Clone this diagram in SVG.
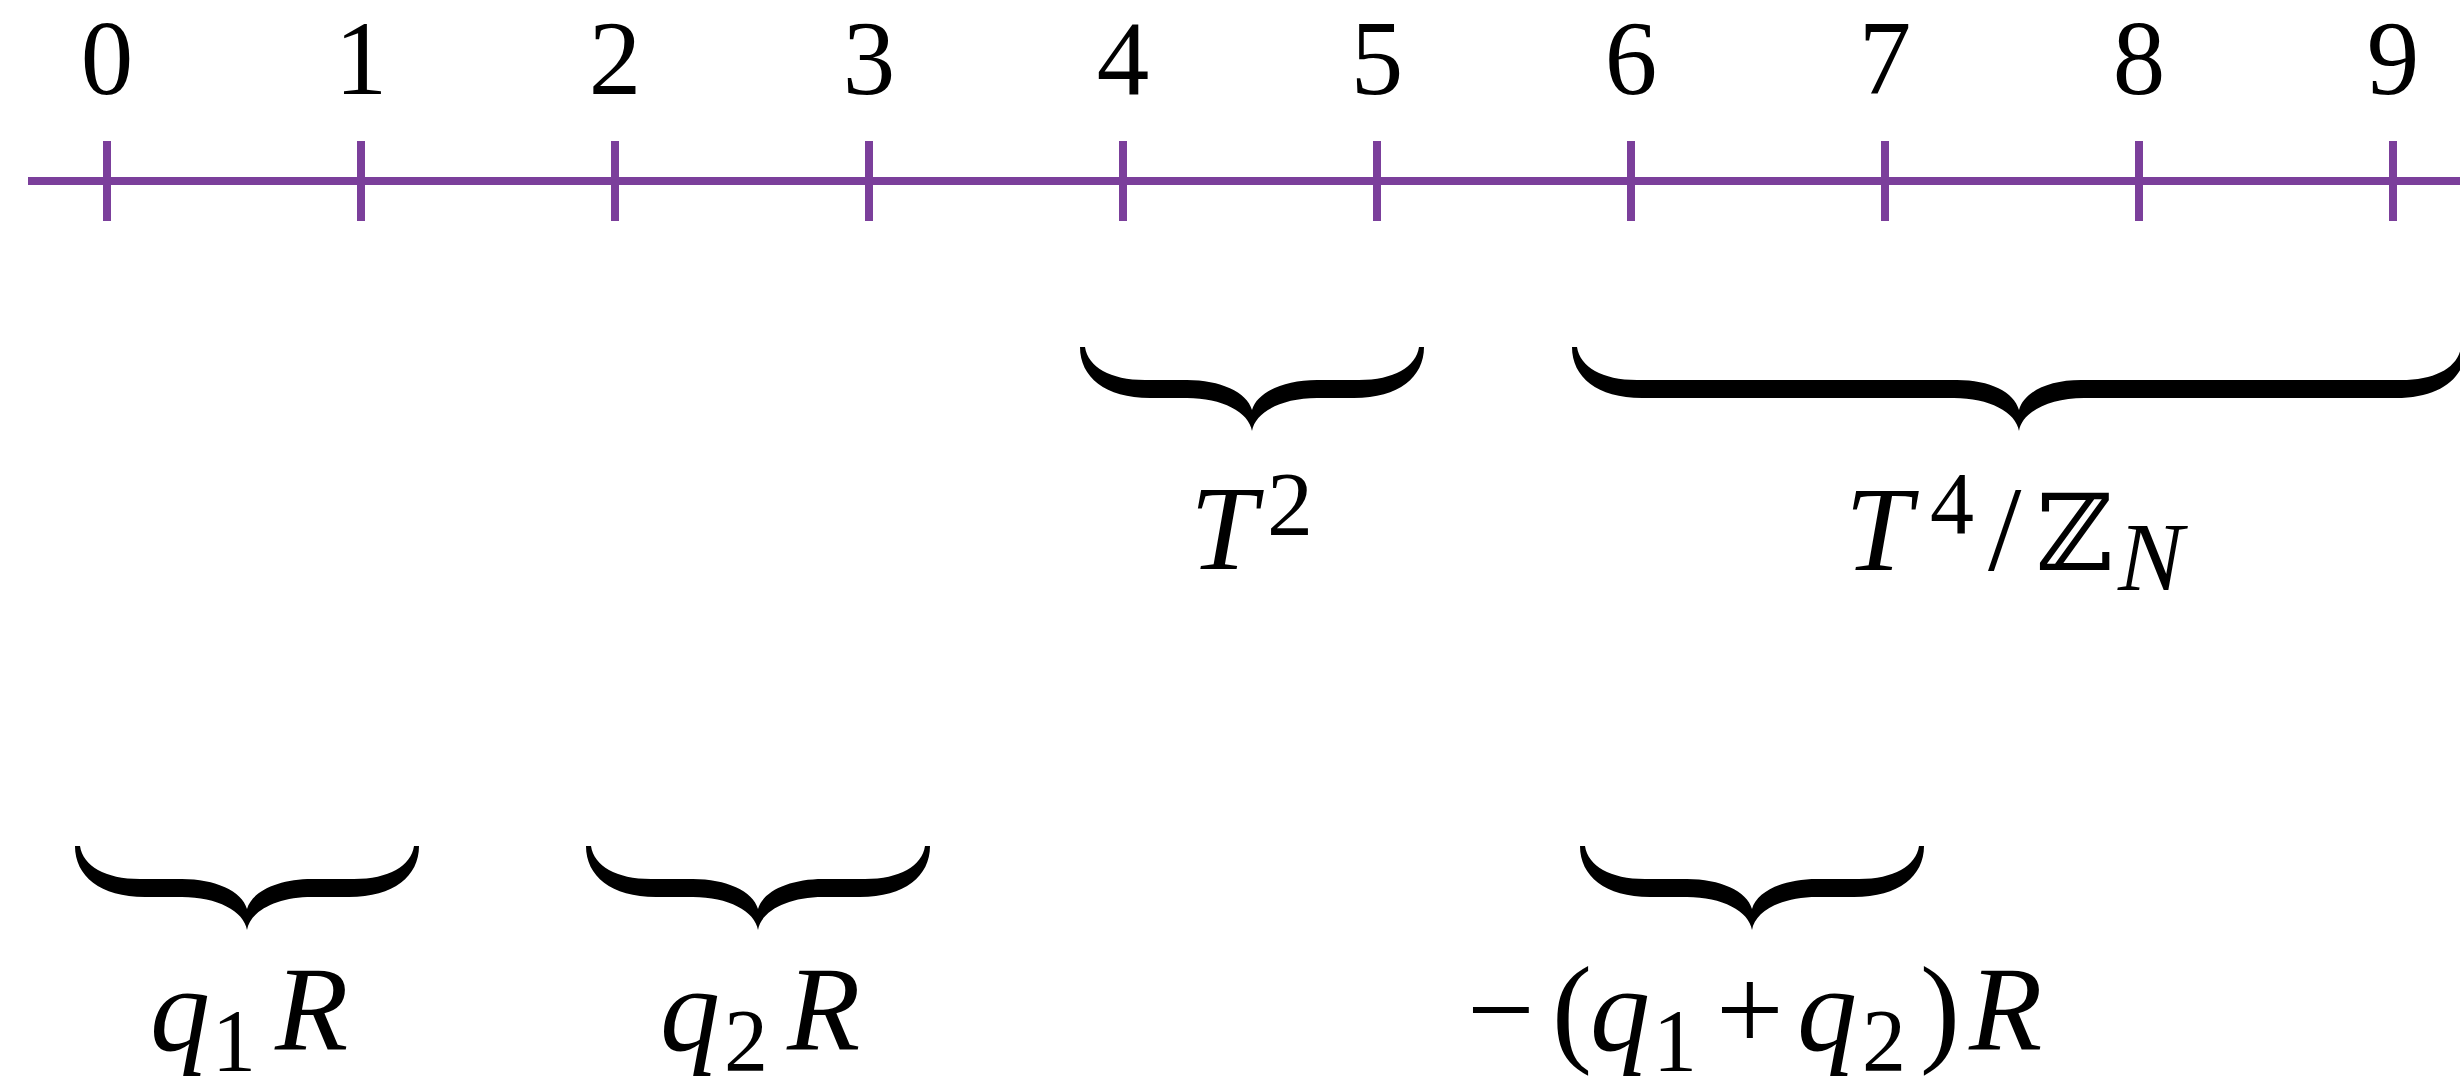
<svg xmlns="http://www.w3.org/2000/svg" width="2460" height="1082" viewBox="0 0 2460 1082">
<style>
.axis{stroke:#7b3f9b;stroke-width:8;fill:none}
.num{font-family:"Liberation Serif",serif;font-size:105px;fill:#000;text-anchor:middle}
.it{font-family:"Liberation Serif",serif;font-style:italic;font-size:120px;fill:#000}
.up{font-family:"Liberation Serif",serif;font-size:120px;fill:#000}
.sub{font-family:"Liberation Serif",serif;font-size:88px;fill:#000}
.bb{font-family:"DejaVu Serif","DejaVu Sans",serif;font-size:106px;fill:#000}
.brace{fill:#000}
</style>
<defs>
<path id="brS" d="M0,0 L5,0 C8,20 30,33 65,33 L107,33 C140,33 167,45 172,63 C177,45 204,33 237,33 L279,33 C314,33 336,20 339,0 L344,0 C344,30 319,51 274,51 L237,51 C202,51 175,65 172,84 C169,65 142,51 107,51 L70,51 C25,51 0,30 0,0 Z"/>
<path id="brL" d="M0,0 L5,0 C8,20 30,33 65,33 L385,33 C418,33 442,45 447,63 C452,45 476,33 509,33 L829,33 C864,33 886,20 889,0 L894,0 C894,30 869,51 824,51 L512,51 C477,51 450,65 447,84 C444,65 417,51 382,51 L70,51 C25,51 0,30 0,0 Z"/>
</defs>
<g id="connectors">
<line class="axis" x1="28" y1="181" x2="2460" y2="181"/>
<line class="axis" x1="107" y1="141" x2="107" y2="221"/>
<line class="axis" x1="361" y1="141" x2="361" y2="221"/>
<line class="axis" x1="615" y1="141" x2="615" y2="221"/>
<line class="axis" x1="869" y1="141" x2="869" y2="221"/>
<line class="axis" x1="1123" y1="141" x2="1123" y2="221"/>
<line class="axis" x1="1377" y1="141" x2="1377" y2="221"/>
<line class="axis" x1="1631" y1="141" x2="1631" y2="221"/>
<line class="axis" x1="1885" y1="141" x2="1885" y2="221"/>
<line class="axis" x1="2139" y1="141" x2="2139" y2="221"/>
<line class="axis" x1="2393" y1="141" x2="2393" y2="221"/>
</g>
<g id="ticklabels">
<text class="num" x="107" y="94">0</text>
<text class="num" x="361" y="94">1</text>
<text class="num" x="615" y="94">2</text>
<text class="num" x="869" y="94">3</text>
<text class="num" x="1123" y="94">4</text>
<text class="num" x="1377" y="94">5</text>
<text class="num" x="1631" y="94">6</text>
<text class="num" x="1885" y="94">7</text>
<text class="num" x="2139" y="94">8</text>
<text class="num" x="2393" y="94">9</text>
</g>
<g id="T2">
<use href="#brS" class="brace" x="1080" y="347"/>
<text class="it" x="1190" y="569">T</text>
<text class="sub" x="1267" y="535" style="font-size:92px">2</text>
</g>
<g id="T4ZN">
<use href="#brL" class="brace" x="1572" y="347"/>
<text class="it" x="1845" y="570">T</text>
<text class="sub" x="1930" y="533">4</text>
<text class="up" x="1988" y="570">/</text>
<text class="bb" x="2036" y="570">ℤ</text>
<text class="it" x="2118" y="590" style="font-size:98px">N</text>
</g>
<g id="q1R">
<use href="#brS" class="brace" x="75" y="846"/>
<text class="it" x="150" y="1050">q</text>
<text class="sub" x="212" y="1070">1</text>
<text class="it" x="275" y="1050">R</text>
</g>
<g id="q2R">
<use href="#brS" class="brace" x="586" y="846"/>
<text class="it" x="660" y="1050">q</text>
<text class="sub" x="724" y="1070">2</text>
<text class="it" x="787" y="1050">R</text>
</g>
<g id="mq1q2R">
<use href="#brS" class="brace" x="1580" y="846"/>
<text class="up" x="1467" y="1050">−</text>
<text class="up" x="1552" y="1050">(</text>
<text class="it" x="1590" y="1050">q</text>
<text class="sub" x="1653" y="1070">1</text>
<text class="up" x="1716" y="1050">+</text>
<text class="it" x="1797" y="1050">q</text>
<text class="sub" x="1862" y="1070">2</text>
<text class="up" x="1920" y="1050">)</text>
<text class="it" x="1969" y="1050">R</text>
</g>
</svg>
